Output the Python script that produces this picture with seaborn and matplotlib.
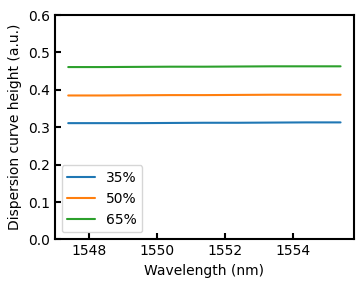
import matplotlib
matplotlib.use("Agg")
import matplotlib.pyplot as plt
import seaborn as sns
import pandas as pd

# ── Data ─────────────────────────────────────────────────────────────────────
wavelength = [1547.4, 1548.4, 1549.4, 1550.4, 1551.4, 1552.4, 1553.4, 1554.4, 1555.4]
h_35 = [0.311, 0.311, 0.311, 0.3115, 0.312, 0.312, 0.3125, 0.313, 0.313]
h_50 = [0.385, 0.385, 0.3855, 0.386, 0.386, 0.3865, 0.387, 0.387, 0.387]
h_65 = [0.461, 0.461, 0.4615, 0.462, 0.462, 0.4625, 0.463, 0.463, 0.463]
labels = ["35%", "50%", "65%"]

df = pd.DataFrame({
    "Wavelength": wavelength * 3,
    "Height": h_35 + h_50 + h_65,
    "Fill": [labels[0]] * len(wavelength) + [labels[1]] * len(wavelength) + [labels[2]] * len(wavelength),
})

sns.set_style("white")
plt.rcParams["font.family"] = ["DejaVu Sans"]
plt.rcParams["text.color"] = "black"
plt.rcParams["axes.labelcolor"] = "black"
plt.rcParams["xtick.color"] = "black"
plt.rcParams["ytick.color"] = "black"

fig, ax = plt.subplots(figsize=(3.64, 2.85), dpi=100)
sns.lineplot(data=df, x="Wavelength", y="Height", hue="Fill",
             palette=["#1f77b4", "#ff7f0e", "#2ca02c"], linewidth=1.5, ax=ax)

ax.set_ylim(0, 0.6)
ax.set_xticks([1548, 1550, 1552, 1554])
ax.set_xlabel("Wavelength (nm)", fontsize=10)
ax.set_ylabel("Dispersion curve height (a.u.)", fontsize=10)
ax.tick_params(bottom=True, left=True, direction="in", length=4, width=1.5,
               labelsize=10, colors="black")
for s in ax.spines.values():
    s.set_linewidth(1.5)
    s.set_color("black")
leg = ax.legend(loc="lower left", fontsize=10, title=None)
for t in leg.get_texts():
    t.set_color("black")

fig.subplots_adjust(left=0.15, right=0.973, top=0.947, bottom=0.16)
fig.savefig("out.png", dpi=100)
